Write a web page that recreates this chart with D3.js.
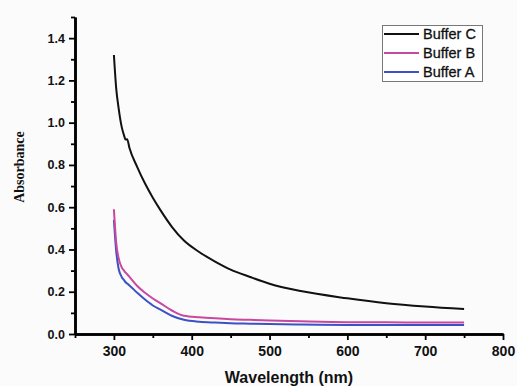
<!DOCTYPE html>
<html>
<head>
<meta charset="utf-8">
<script src="https://cdn.jsdelivr.net/npm/d3@7"></script>
<style>
  body { margin: 0; background: #fbfbfb; }
  svg { display: block; }
</style>
</head>
<body>
<div id="chart"></div>
<script>
const wavelengths = [300, 303, 306, 310, 313, 315, 317, 320, 330, 340, 350, 360, 375, 390, 410, 430, 450, 475, 500, 540, 600, 650, 700, 750];
const bufferC = [1.32, 1.16, 1.07, 0.98, 0.94, 0.92, 0.922, 0.88, 0.79, 0.712, 0.645, 0.585, 0.505, 0.442, 0.387, 0.343, 0.305, 0.27, 0.238, 0.203, 0.169, 0.146, 0.13, 0.118];
const bufferB = [0.59, 0.43, 0.36, 0.315, 0.30, 0.29, 0.283, 0.27, 0.227, 0.195, 0.168, 0.145, 0.11, 0.086, 0.079, 0.074, 0.07, 0.067, 0.064, 0.06, 0.056, 0.056, 0.054, 0.054];
const bufferA = [0.54, 0.39, 0.31, 0.27, 0.255, 0.245, 0.239, 0.23, 0.195, 0.163, 0.135, 0.115, 0.085, 0.067, 0.058, 0.054, 0.051, 0.049, 0.047, 0.045, 0.043, 0.043, 0.043, 0.043];

const seriesNames = ["Buffer C", "Buffer B", "Buffer A"];
const seriesValues = [bufferC, bufferB, bufferA];
const seriesColors = ["#111111", "#c8479f", "#3c52c4"];

const xMajor = [300, 400, 500, 600, 700, 800];
const xMinor = [250, 350, 450, 550, 650, 750];
const yMajor = [0, 0.2, 0.4, 0.6, 0.8, 1.0, 1.2, 1.4];
const yMinor = [0.1, 0.3, 0.5, 0.7, 0.9, 1.1, 1.3, 1.5];

const width = 517, height = 386;

const svg = d3.select("#chart").append("svg")
	.attr("width", width)
	.attr("height", height);

const x = d3.scaleLinear()
	.domain([250, 800])
	.range([75, 503]);

const y = d3.scaleLinear()
	.domain([0, 1.5])
	.range([334, 17]);

// axes
const xAxis = svg.append("g")
	.attr("transform", `translate(0,${y(0)})`)
	.call(d3.axisBottom(x).tickValues(xMajor).tickSize(6).tickSizeOuter(0).tickPadding(6).tickFormat(d3.format("d")));
svg.append("g")
	.attr("transform", `translate(0,${y(0)})`)
	.call(d3.axisBottom(x).tickValues(xMinor).tickSize(4).tickSizeOuter(0).tickFormat(""));

const yAxis = svg.append("g")
	.attr("transform", `translate(${x(250)},0)`)
	.call(d3.axisLeft(y).tickValues(yMajor).tickSize(6).tickSizeOuter(0).tickPadding(4).tickFormat(d3.format(".1f")));
svg.append("g")
	.attr("transform", `translate(${x(250)},0)`)
	.call(d3.axisLeft(y).tickValues(yMinor).tickSize(4).tickSizeOuter(0).tickFormat(""));

svg.selectAll(".domain").attr("stroke", "#000").attr("stroke-width", 2.5);
svg.selectAll(".tick line").attr("stroke", "#000").attr("stroke-width", 1.8);

xAxis.selectAll("text")
	.attr("font-family", "Liberation Sans, Arial, sans-serif")
	.attr("font-weight", "bold")
	.attr("font-size", 14)
	.attr("fill", "#111");
yAxis.selectAll("text")
	.attr("font-family", "Liberation Sans, Arial, sans-serif")
	.attr("font-weight", "bold")
	.attr("font-size", 12.5)
	.attr("fill", "#111");

// axis titles
svg.append("text")
	.attr("x", 289)
	.attr("y", 383)
	.attr("text-anchor", "middle")
	.attr("font-family", "Liberation Sans, Arial, sans-serif")
	.attr("font-weight", "bold")
	.attr("font-size", 16)
	.attr("fill", "#111")
	.text("Wavelength (nm)");

svg.append("text")
	.attr("transform", "translate(24,167) rotate(-90)")
	.attr("text-anchor", "middle")
	.attr("font-family", "Liberation Serif, Times New Roman, serif")
	.attr("font-weight", "bold")
	.attr("font-size", 14)
	.attr("fill", "#111")
	.text("Absorbance");

// lines
const line = d3.line()
	.x((d, i) => x(wavelengths[i]))
	.y(d => y(d))
	.curve(d3.curveMonotoneX);

// draw A first so B and C sit on top
[2, 1, 0].forEach(k => {
	svg.append("path")
		.datum(seriesValues[k])
		.attr("fill", "none")
		.attr("stroke", seriesColors[k])
		.attr("stroke-width", 2)
		.attr("d", line);
});

// legend
const legend = svg.append("g");
legend.append("rect")
	.attr("x", 382.5)
	.attr("y", 25.5)
	.attr("width", 100)
	.attr("height", 56)
	.attr("fill", "#fff")
	.attr("stroke", "#777")
	.attr("stroke-width", 1);

seriesNames.forEach((name, i) => {
	const ly = 34 + i * 19;
	legend.append("line")
		.attr("x1", 384).attr("x2", 419)
		.attr("y1", ly).attr("y2", ly)
		.attr("stroke", seriesColors[i])
		.attr("stroke-width", 2.2);
	legend.append("text")
		.attr("x", 423)
		.attr("y", ly + 5)
		.attr("font-family", "Liberation Sans, Arial, sans-serif")
		.attr("font-size", 14.5)
		.attr("fill", "#111")
		.attr("stroke", "#111")
		.attr("stroke-width", 0.3)
		.text(name);
});
</script>
</body>
</html>
